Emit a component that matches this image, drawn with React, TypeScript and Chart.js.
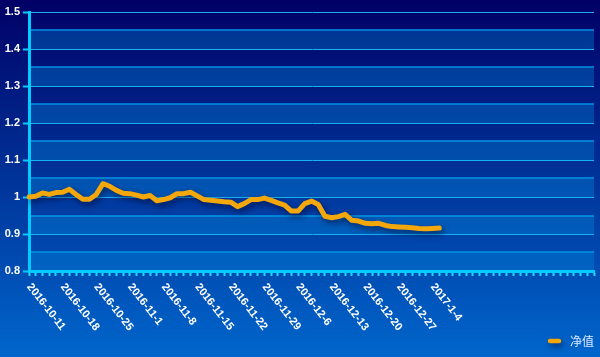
import React, { useEffect, useRef } from 'react';
import { Chart, registerables } from 'chart.js';

Chart.register(...registerables);

const categories: string[] = [
  '2016-10-11', '2016-10-12', '2016-10-13', '2016-10-14', '2016-10-17',
  '2016-10-18', '2016-10-19', '2016-10-20', '2016-10-21', '2016-10-24',
  '2016-10-25', '2016-10-26', '2016-10-27', '2016-10-28', '2016-10-31',
  '2016-11-1', '2016-11-2', '2016-11-3', '2016-11-4', '2016-11-7',
  '2016-11-8', '2016-11-9', '2016-11-10', '2016-11-11', '2016-11-14',
  '2016-11-15', '2016-11-16', '2016-11-17', '2016-11-18', '2016-11-21',
  '2016-11-22', '2016-11-23', '2016-11-24', '2016-11-25', '2016-11-28',
  '2016-11-29', '2016-11-30', '2016-12-1', '2016-12-2', '2016-12-5',
  '2016-12-6', '2016-12-7', '2016-12-8', '2016-12-9', '2016-12-12',
  '2016-12-13', '2016-12-14', '2016-12-15', '2016-12-16', '2016-12-19',
  '2016-12-20', '2016-12-21', '2016-12-22', '2016-12-23', '2016-12-26',
  '2016-12-27', '2016-12-28', '2016-12-29', '2016-12-30', '2017-1-3',
  '2017-1-4', '2017-1-5',
  '', '', '', '', '', '', '', '', '', '', '', '', '', '', '', '', '', '', '', '', '', '', '',
];

const navValues: number[] = [
  1.000, 1.002, 1.011, 1.007, 1.012, 1.013, 1.021, 1.007, 0.994, 0.994,
  1.007, 1.036, 1.029, 1.018, 1.010, 1.009, 1.005, 1.000, 1.004, 0.990,
  0.993, 0.998, 1.009, 1.009, 1.013, 1.003, 0.993, 0.991, 0.989, 0.987,
  0.986, 0.974, 0.982, 0.993, 0.993, 0.997, 0.991, 0.984, 0.978, 0.962,
  0.962, 0.982, 0.989, 0.980, 0.948, 0.944, 0.947, 0.953, 0.937, 0.935,
  0.929, 0.928, 0.929, 0.923, 0.920, 0.919, 0.918, 0.917, 0.915, 0.914,
  0.915, 0.916,
];

const seriesName = '净值';
const yMin = 0.8;
const yMax = 1.5;
const yStep = 0.1;
const labelEvery = 5;

const LINE_COLOR = '#f4a70a';

export default function App() {
  const ref = useRef<HTMLCanvasElement>(null);

  useEffect(() => {
    document.body.style.margin = '0';
    const canvas = ref.current;
    if (!canvas) return;

    const bgPlugin = {
      id: 'bgBands',
      beforeDraw(chart: any) {
        const { ctx, width, height, chartArea, scales } = chart;
        ctx.save();
        const g = ctx.createLinearGradient(0, 0, 0, height);
        g.addColorStop(0, '#000066');
        g.addColorStop(1, '#0066cc');
        ctx.fillStyle = g;
        ctx.fillRect(0, 0, width, height);
        const y = scales.y;
        const n = Math.round((yMax - yMin) / yStep);
        for (let k = 0; k < n; k++) {
          const lo = yMin + k * yStep;
          const hi = lo + yStep / 2;
          const yt = y.getPixelForValue(hi);
          const yb = y.getPixelForValue(lo);
          ctx.fillStyle = 'rgba(0,140,220,0.35)';
          ctx.fillRect(chartArea.left, yt, chartArea.right - chartArea.left, yb - yt);
          ctx.fillStyle = 'rgba(0,150,230,0.75)';
          ctx.fillRect(chartArea.left, Math.round(yt) - 1, chartArea.right - chartArea.left, 2);
        }
        ctx.restore();
      },
    };

    const shadowPlugin = {
      id: 'lineShadow',
      beforeDatasetDraw(chart: any) {
        const ctx = chart.ctx;
        ctx.save();
        ctx.shadowColor = 'rgba(0,0,40,0.6)';
        ctx.shadowBlur = 6;
        ctx.shadowOffsetX = 2;
        ctx.shadowOffsetY = 3;
      },
      afterDatasetDraw(chart: any) {
        chart.ctx.restore();
      },
    };

    const labelPlugin = {
      id: 'xLabelsLegend',
      afterDraw(chart: any) {
        const { ctx, scales, chartArea } = chart;
        const x = scales.x;
        ctx.save();
        ctx.font = 'bold 11px "Liberation Sans", Arial, sans-serif';
        ctx.fillStyle = '#ffffff';
        ctx.textAlign = 'left';
        ctx.textBaseline = 'middle';
        const ang = (52 * Math.PI) / 180;
        categories.forEach((lab, i) => {
          if (i % labelEvery !== 0 || !lab) return;
          const px = x.getPixelForValue(i);
          ctx.save();
          ctx.translate(px, chartArea.bottom + 14);
          ctx.rotate(ang);
          ctx.fillText(lab, 0, 0);
          ctx.restore();
        });
        ctx.restore();

        // legend
        ctx.save();
        ctx.shadowColor = 'rgba(0,0,40,0.6)';
        ctx.shadowBlur = 6;
        ctx.shadowOffsetX = 2;
        ctx.shadowOffsetY = 3;
        ctx.strokeStyle = LINE_COLOR;
        ctx.lineWidth = 4.5;
        ctx.lineCap = 'round';
        ctx.beginPath();
        ctx.moveTo(550, 341);
        ctx.lineTo(559, 341);
        ctx.stroke();
        ctx.restore();
        ctx.save();
        ctx.font = '12px "Noto Sans CJK SC", sans-serif';
        ctx.fillStyle = '#dce9ff';
        ctx.textAlign = 'left';
        ctx.textBaseline = 'middle';
        ctx.fillText(chart.data.datasets[0].label, 570, 341);
        ctx.restore();
      },
    };

    const chart = new Chart(canvas, {
      type: 'line',
      data: {
        labels: categories,
        datasets: [
          {
            label: seriesName,
            data: navValues,
            borderColor: LINE_COLOR,
            backgroundColor: LINE_COLOR,
            borderWidth: 5,
            pointRadius: 0,
            pointHoverRadius: 0,
            tension: 0,
            borderJoinStyle: 'round',
            borderCapStyle: 'round',
            fill: false,
          },
        ],
      },
      options: {
        responsive: false,
        animation: false,
        devicePixelRatio: 1,
        layout: { padding: { top: 12, right: 6, left: 0, bottom: 0 } },
        plugins: {
          legend: { display: false },
          tooltip: { enabled: false },
        },
        scales: {
          x: {
            type: 'category',
            offset: false,
            afterFit: (scale: any) => {
              scale.height = 86;
            },
            grid: {
              display: true,
              drawOnChartArea: false,
              drawTicks: true,
              tickLength: 5,
              tickWidth: 2,
              tickColor: '#2ad6ff',
              offset: false,
            },
            border: { display: true, color: '#00ccff', width: 3 },
            ticks: { display: false, autoSkip: false },
          },
          y: {
            min: yMin,
            max: yMax,
            afterFit: (scale: any) => {
              scale.width = 29;
            },
            grid: {
              color: '#18b2f2',
              lineWidth: 1,
              drawTicks: true,
              tickLength: 6,
              tickWidth: 2,
              tickColor: '#00ccff',
            },
            border: { display: true, color: '#00ccff', width: 3 },
            ticks: {
              stepSize: yStep,
              padding: 3,
              color: '#ffffff',
              font: { family: '"Liberation Sans", Arial, sans-serif', size: 11, weight: 'bold' },
              callback: (v: any) => String(Math.round(Number(v) * 10) / 10),
            },
          },
        },
      },
      plugins: [bgPlugin, shadowPlugin, labelPlugin],
    } as any);

    return () => chart.destroy();
  }, []);

  return (
    <div style={{ width: 600, height: 357 }}>
      <canvas ref={ref} width={600} height={357} style={{ display: 'block', width: 600, height: 357 }} />
    </div>
  );
}
